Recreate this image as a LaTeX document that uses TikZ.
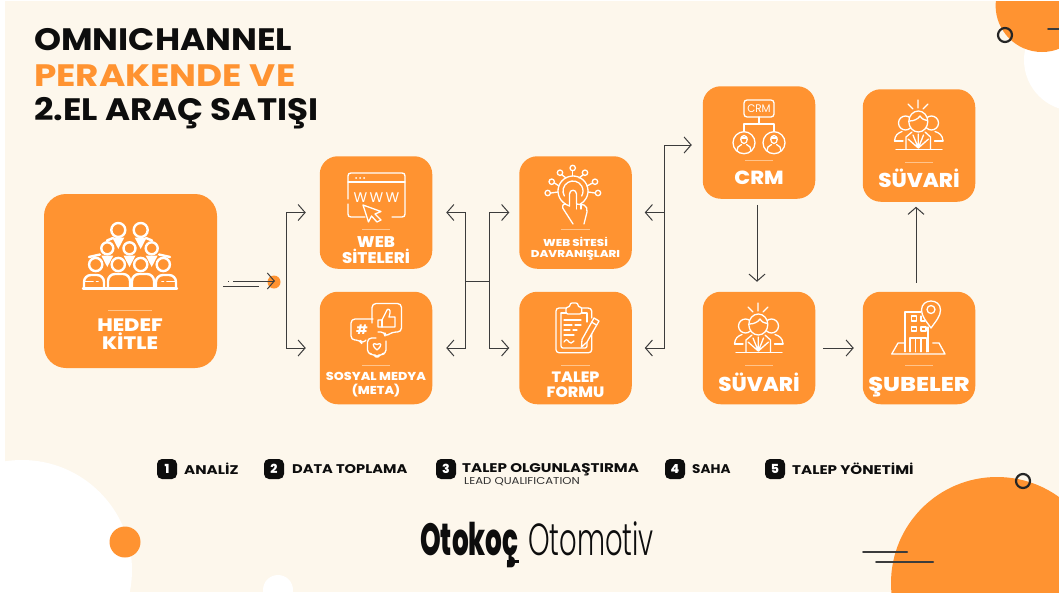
\documentclass[tikz,border=0pt]{standalone}
\usepackage{fontspec}
\setmainfont{Poppins}
\newfontfamily\poplight{Poppins Light}
\newfontfamily\heavy{Poppins ExtraBold}
\usetikzlibrary{arrows.meta,calc}
\definecolor{org}{HTML}{FF9331}
\definecolor{cream}{HTML}{FDF7EC}
\definecolor{ink}{HTML}{0D0D0D}
\definecolor{wire}{HTML}{3C3C3C}
\definecolor{divline}{HTML}{FFC48C}
\newcommand{\sx}[2]{\scalebox{#1}[1]{#2}}
\tikzset{
  cardbox/.style={fill=org,rounded corners=18pt,minimum width=112.5pt,minimum height=112.5pt,inner sep=0pt,outer sep=0pt},
  lab/.style={text=white,align=center,inner sep=0pt},
  arr/.style={draw=wire,line width=1pt,-{Straight Barb[length=7pt,width=16pt,line width=1pt]}},
  wireline/.style={draw=wire,line width=1pt},
  ico/.style={draw=white,line width=1.3pt,line cap=round,line join=round},
  icofill/.style={ico,fill=org},
  divider/.style={draw=divline,line width=.7pt},
  numbox/.style={fill=ink,text=white,font=\heavy\fontsize{12.5}{12.5}\selectfont,rounded corners=5pt,minimum size=20pt,inner sep=0pt},
  legend/.style={text=ink,font=\bfseries\fontsize{12.6}{13}\selectfont,anchor=west,inner sep=0pt},
  deco/.style={draw=wire,line width=2pt,line cap=round},
  ring/.style={draw=ink!90,line width=2.2pt},
  titletext/.style={anchor=west,inner sep=0pt,font=\bfseries\fontsize{31}{32}\selectfont},
}
\newcommand{\suvicon}{%
  \draw[ico] (918,100)--(918,108) (908,104)--(913,109) (928,104)--(923,109);
  \draw[ico] (905.5,123) circle[radius=7] (931.5,123) circle[radius=7];
  \draw[ico] (894.5,141) .. controls (895,135) and (898,133) .. (902,131.5);
  \draw[ico] (943,141) .. controls (942.5,135) and (939.5,133) .. (935,131.5);
  \draw[ico] (894.5,141)--(903,141) (943,141)--(934.5,141);
  \draw[icofill] (918.3,121.5) ellipse[x radius=9.5,y radius=10.5];
  \draw[ico] (909.5,121) .. controls (914,121) and (918,119) .. (920,116) .. controls (922,119) and (924,120) .. (927,120.5);
  \draw[ico] (906,149) -- (906,137) -- (912,132) (930.5,149) -- (930.5,137) -- (925,132);
  \draw[ico] (896,149.5)--(942,149.5);
  \draw[ico] (918.3,148)--(908,139) (918.3,148)--(913,135) (918.3,148)--(918.3,134) (918.3,148)--(923.5,135) (918.3,148)--(928.5,139);
}
\begin{document}
\begin{tikzpicture}[x=1pt,y=-1pt]
\useasboundingbox (0,0) rectangle (1059,595);
\fill[white] (0,0) rectangle (1059,595);
\begin{scope}
  \clip (5,1) rectangle (1059,592);
  \fill[cream] (5,1) rectangle (1059,592);
  \fill[white] (1075,60) circle[radius=51];
  \fill[org] (1042,5.6) circle[radius=46.4];
  \fill[org] (997,583) circle[radius=106];
  \fill[white] (22,570) circle[radius=110];
  \fill[white] (278,590) circle[radius=15];
  \fill[org] (125,542) circle[radius=15.5];
\end{scope}
\draw[ring] (1005,35) circle[radius=7];
\draw[ring] (1023,481) circle[radius=7];
\draw[deco] (1048,29)--(1059,29);
\draw[deco] (863,551.7)--(907,551.7);
\draw[deco] (876,562)--(933,562);

% title
\node[titletext,text=ink] (t1) at (34,40) {\sx{1.11}{OMNICHANNEL}};
\node[titletext,text=org] (t2) at (34,76) {\sx{1.155}{PERAKENDE VE}};
\node[titletext,text=ink] (t3) at (34,113) {\sx{1.1}{2.EL ARAÇ SATIŞI}};

% cards
\node[cardbox,minimum width=173pt,minimum height=174pt,rounded corners=22pt] (hedef) at (130.5,281) {};
\node[cardbox] (web) at (376,212.5) {};
\node[cardbox] (sosyal) at (376,348) {};
\node[cardbox] (davr) at (575.5,212.5) {};
\node[cardbox] (form) at (575.5,348) {};
\node[cardbox] (crm) at (759,142.5) {};
\node[cardbox] (suvb) at (759,348) {};
\node[cardbox] (sube) at (919,348) {};
\node[cardbox] (suvt) at (919,145.5) {};

% labels
\node[lab,font=\heavy\fontsize{18}{18}\selectfont] (lhedef) at (130,334) {\sx{1.16}{HEDEF}\\\sx{1.16}{KİTLE}};
\node[lab,font=\heavy\fontsize{15.5}{16}\selectfont] (lweb) at (376,250) {\sx{1.07}{WEB}\\\sx{1.07}{SİTELERİ}};
\node[lab,font=\heavy\fontsize{11.5}{14}\selectfont] (lsos) at (376,385) {\sx{1.11}{SOSYAL MEDYA}\\\sx{1.11}{(META)}};
\node[lab,font=\heavy\fontsize{10}{11.5}\selectfont] (ldav) at (575.5,248.5) {\sx{1.18}{WEB SİTESİ}\\\sx{1.18}{DAVRANIŞLARI}};
\node[lab,font=\heavy\fontsize{15}{14.5}\selectfont] (lfor) at (575.5,385) {\sx{1.05}{TALEP}\\\sx{1.05}{FORMU}};
\node[lab,anchor=base,font=\heavy\fontsize{19}{19}\selectfont] (lcrm) at (759,184.5) {\sx{1.10}{CRM}};
\node[lab,anchor=base,font=\heavy\fontsize{20}{20}\selectfont] (lsuvt) at (919,187) {\sx{1.07}{SÜVARİ}};
\node[lab,anchor=base,font=\heavy\fontsize{20}{20}\selectfont] (lsuvb) at (759,391) {\sx{1.07}{SÜVARİ}};
\node[lab,anchor=base,font=\heavy\fontsize{20}{20}\selectfont] (lsub) at (919,391) {\sx{1.19}{ŞUBELER}};

% dividers
\draw[divider] (108,310.7)--(152,310.7);
\draw[divider] (362,229)--(390,229);
\draw[divider] (362,365.7)--(390,365.7);
\draw[divider] (561,229)--(590,229);
\draw[divider] (561,365.7)--(590,365.7);
\draw[divider] (745,160)--(773,160);
\draw[divider] (905,162)--(933,162);
\draw[divider] (745,365.7)--(773,365.7);
\draw[divider] (905,365.7)--(933,365.7);

% crowd icon
\begin{scope}[line width=2.4pt,line cap=round]
  \foreach \xx in {118.3,140.7} {\draw[white] (\xx,230) circle[radius=7];
     \fill[white] (\xx-6,237.5)--(\xx+6,237.5)--(\xx,249)--cycle;}
  \foreach \xx in {107.3,129.5,151.7} {\draw[white] (\xx,248.3) circle[radius=6];
     \fill[white] (\xx-6,255.5)--(\xx+6,255.5)--(\xx,267)--cycle;}
  \foreach \xx in {95.7,118.3,140.7,163.3} \draw[white] (\xx,264.5) circle[radius=6.6];
  \draw[white] (107,240.5)--(113,238) (152,240.5)--(146,238);
  \draw[white] (89,257)--(100,254.5) (170,257)--(159,254.5);
  \draw[white,rounded corners=7pt] (108,288)--(108,274)--(130,274)--(130,288);
  \draw[white,rounded corners=7pt] (132,288)--(132,274)--(154,274)--(154,288);
  \draw[white,rounded corners=7pt] (104,288)--(104,275)--(84,275)--(84,288);
  \draw[white,rounded corners=7pt] (156,288)--(156,275)--(176,275)--(176,288);
  \draw[white] (83,288.5)--(177,288.5);
  \draw[white,line width=1.6pt] (84,281.5)--(93,281.5) (96.5,281.5)--(98,281.5);
  \draw[white,line width=1.6pt] (176,281.5)--(167,281.5) (163.5,281.5)--(162,281.5);
\end{scope}

% browser icon
\draw[ico] (348,199)--(348,176) .. controls (348,174) and (349,173) .. (351,173) -- (402,173) .. controls (404,173) and (405,174) .. (405,176) -- (405,214) .. controls (405,216) and (404,217) .. (402,217) -- (392,217);
\draw[ico] (348,204)--(348,214) .. controls (348,216) and (349,217) .. (351,217) -- (365,217);
\draw[ico] (348,182)--(405,182);
\draw[ico,line width=1.6pt] (356,177.7)--(356.2,177.7) (360,177.7)--(360.2,177.7) (364,177.7)--(364.2,177.7);
\node[inner sep=0pt,text=white,font=\fontsize{14}{14}\selectfont] (www) at (376.5,197.5) {W\,W\,W};
\draw[icofill] (363,205)--(381,211.5)--(375,214)--(381,220)--(377,222)--(371.5,216)--(368.5,222)--cycle;

% social icon
\draw[ico,rounded corners=4pt] (372,323)--(372,303.5)--(401.5,303.5)--(401.5,332)--(392,332)--(385,337)--(385,332)--(378,332);
\draw[ico] (378,320)--(382,320)--(387,310) .. controls (388,308) and (391,310) .. (390,313)--(389,317)--(395,317)--(395,327)--(382,327)--(378,327)--cycle;
\draw[ico] (382,320)--(382,327);
\draw[ico,rounded corners=4pt] (373,319)--(351,319)--(351,340)--(360,340)--(362,344)--(366,340);
\node[inner sep=0pt,text=white,font=\bfseries\fontsize{13}{13}\selectfont] (hash) at (362,330) {\#};
\draw[ico,rounded corners=4pt] (376,338)--(367.5,338)--(367.5,354)--(374,354)--(377,358)--(380,354)--(386,354)--(386,341);
\draw[ico] (377,350) .. controls (371,345) and (373,342) .. (377,344.5) .. controls (381,342) and (383,345) .. (377,350);

% touch icon
\draw[ico] ([shift={(120:15)}]573,191) arc[start angle=120,end angle=420,radius=15];
\draw[ico] ([shift={(150:10)}]573,191) arc[start angle=150,end angle=390,radius=10];
\foreach \xa/\ya/\xb/\yb in {572.7/176/572.7/171,566/178/561.5/174.5,579/178/583.5/174.5,559/186/554.5/183,587/186/592.5/183,558/192/551/193,588/192/595/193} \draw[ico] (\xa,\ya)--(\xb,\yb);
\foreach \xx/\yy in {572.7/168,560/172.7,585/172.7,551.7/181.7,595/181.7,547.7/193,598/193} \draw[ico] (\xx,\yy) circle[radius=2.7];
\draw[ico] (569.5,206)--(569.5,194) .. controls (569.5,189) and (576.5,189) .. (576.5,194)--(576.5,204)--(584,205) .. controls (587,206) and (587,209) .. (587,212) -- (584,224);
\draw[ico] (569.5,206)--(565,204) .. controls (562,204) and (562,208) .. (564,210) -- (573,224);
\draw[ico] (581,204)--(581,209) (576.5,204)--(576.5,209);

% clipboard icon
\draw[ico,rounded corners=3pt] (566,308)--(556,308)--(556,352.7)--(591.7,352.7)--(591.7,329);
\draw[ico] (591.7,318)--(591.7,311) .. controls (591.7,309) and (590,308) .. (588,308)--(582,308);
\draw[ico,rounded corners=2pt] (561,313)--(561,348)--(587,348)--(587,338);
\draw[ico] (561,313)--(566,313) (582,313)--(587,313)--(587,322);
\draw[icofill,rounded corners=2pt] (566,307)--(570,307)--(570,303)--(578,303)--(578,307)--(581.7,307)--(581.7,314)--(566,314)--cycle;
\draw[ico] (564,320)--(581,320) (564,325)--(572,325) (575,325)--(581,325) (564,330)--(570,330) (573,330)--(577,330) (564,335)--(574,335);
\draw[ico] (564,342) .. controls (566,339) and (567,339) .. (569,342) .. controls (570,344) and (572,343) .. (574,341);
\draw[icofill] (594,318)--(599,321)--(587,342)--(581.5,347)--(582,339.5)--cycle;
\draw[ico] (591.5,322)--(596.5,325);

% crm icon
\draw[ico,rounded corners=3pt] (744,100)--(774,100)--(774,117)--(744,117)--cycle;
\node[inner sep=0pt,text=white,font=\fontsize{11}{11}\selectfont] (crmtxt) at (759,109) {\sx{.95}{CRM}};
\draw[ico] (759,117)--(759,124) (744,131.7)--(744,124)--(774,124)--(774,131.7);
\foreach \xx in {744,774} {
  \draw[ico] (\xx,142.7) circle[radius=11];
  \draw[ico] (\xx,139.5) ellipse[x radius=3.2,y radius=4];
  \draw[ico] (\xx-7,151)--(\xx-6,147) .. controls (\xx-4,145.5) and (\xx-3,145) .. (\xx-2.5,144.5) (\xx+7,151)--(\xx+6,147) .. controls (\xx+4,145.5) and (\xx+3,145) .. (\xx+2.5,144.5);
  \draw[ico] (\xx-3,138)--(\xx+3,138);
}

% suvari icons
\suvicon
\begin{scope}[shift={(-160,203)}]
  \suvicon
\end{scope}

% branch icon
\draw[ico] (905,343)--(898,343)--(891.7,354)--(945,354)--(939,343)--(932.7,343);
\draw[ico] (905,351.7)--(905,312)--(921,312);
\draw[ico] (928,327)--(928,351.7);
\draw[ico] (911.7,316) rectangle (916.7,321) (921,327) rectangle (926,331) (911.7,327) rectangle (916.7,331);
\draw[ico] (921,316)--(921,321)--(925,321);
\draw[ico] (910,351.7)--(910,338)--(926.7,338)--(926.7,351.7) (915.5,338)--(915.5,351.7) (921,338)--(921,351.7);
\draw[icofill] (931,328) .. controls (926,321) and (921.5,316) .. (921.5,310) .. controls (921.5,298) and (940.5,298) .. (940.5,310) .. controls (940.5,316) and (936,321) .. (931,328);
\draw[ico] (931,309.5) circle[radius=4];

% connectors
\coordinate (j1) at (286,281);
\coordinate (j2) at (465,281);
\coordinate (j3) at (489,281);
\coordinate (j4) at (664,280);
\fill[org] (274,282) circle[radius=6.5];
\coordinate (hs) at ([xshift=16pt,yshift=0pt]hedef.east);
\coordinate (ht) at ([xshift=58pt,yshift=0pt]hedef.east);
\draw[arr] (hs) -- (ht);
\draw[wireline,line width=.9pt] ([xshift=6pt,yshift=-5pt]hedef.east) -- ([xshift=42pt,yshift=-5pt]hedef.east);
\draw[wireline,line width=.9pt,dotted] ([xshift=11pt]hedef.east) -- ([xshift=13pt]hedef.east);
\draw[arr] (j1) |- ([xshift=-14pt]web.west);
\draw[arr] (j1) |- ([xshift=-14pt]sosyal.west);
\draw[wireline] (j2) -- (j3);
\draw[arr] (j2) |- ([xshift=14pt]web.east);
\draw[arr] (j2) |- ([xshift=14pt]sosyal.east);
\draw[arr] (j3) |- ([xshift=-10pt]davr.west);
\draw[arr] (j3) |- ([xshift=-10pt]form.west);
\draw[arr] (j4) |- ([xshift=13pt]davr.east);
\draw[arr] (j4) |- ([xshift=13pt]form.east);
\draw[arr] (j4) |- ([xshift=-11pt,yshift=-2.5pt]crm.west);
\draw[arr] ([xshift=-2pt,yshift=-6pt]crm.south) -- ([xshift=-2pt,yshift=10pt]suvb.north);
\draw[arr] ([xshift=8pt]suvb.east) -- ([xshift=-9pt]sube.west);
\draw[arr] ([xshift=-3pt,yshift=9pt]sube.north) -- ([xshift=-3pt,yshift=-5pt]suvt.south);

% legend
\node[numbox] (n1) at (167,469) {1};
\node[legend] (l1) at (184,469) {\sx{1.2}{ANALİZ}};
\node[numbox] (n2) at (274,469) {2};
\node[legend] (l2) at (292,469) {\sx{1.16}{DATA TOPLAMA}};
\node[numbox] (n3) at (446,469) {3};
\node[legend] (l3) at (462,470) {\sx{1.2}{TALEP OLGUNLAŞTIRMA}};
\node[legend,font=\fontsize{10}{10}\selectfont,text=ink!85] (l3b) at (464,482) {\sx{1.17}{LEAD QUALIFICATION}};
\node[numbox] (n4) at (675,469) {4};
\node[legend] (l4) at (692,469) {\sx{1.08}{SAHA}};
\node[numbox] (n5) at (775,469) {5};
\node[legend] (l5) at (792,469) {\sx{1.2}{TALEP YÖNETİMİ}};

% logo
\node[anchor=base west,inner sep=0pt,text=ink,font=\heavy\fontsize{45}{45}\selectfont] (logoa) at (420,555) {\scalebox{.585}[1]{Otokoç}};
\node[anchor=base west,inner sep=0pt,text=ink,font=\poplight\fontsize{45}{45}\selectfont] (logob) at (528,555) {\scalebox{.61}[1]{Otomotiv}};
\fill[ink] (507,560) rectangle (519,563);
\end{tikzpicture}
\end{document}
